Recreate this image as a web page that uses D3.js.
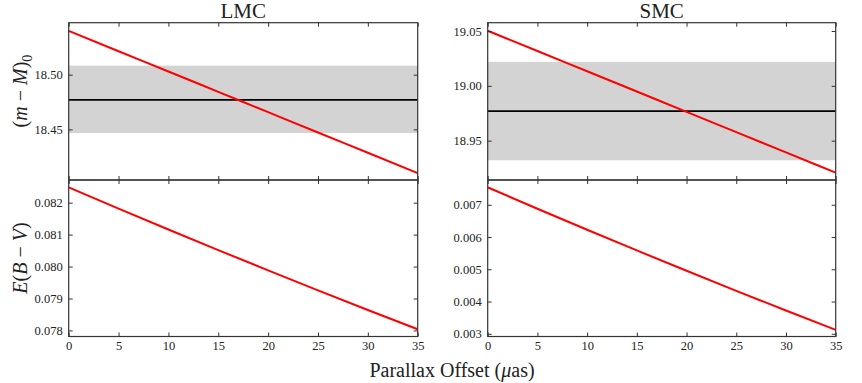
<!DOCTYPE html>
<html lang="en">
<head>
<meta charset="utf-8">
<title>LMC / SMC parallax offset</title>
<script src="https://d3js.org/d3.v7.min.js"></script>
<style type="text/css">
  body { margin: 0; background: #fff; }
  svg text { font-family: "Liberation Serif", "DejaVu Serif", serif; fill: #222; }
  .tick line { stroke: #333; }
</style>
</head>
<body>
<svg width="862" height="383" id="chart"></svg>
<script>
  // data
  var offsets = [0, 5, 10, 15, 20, 25, 30, 35];
  var lmcMu  = [18.540, 18.5214, 18.5029, 18.4843, 18.4657, 18.4471, 18.4286, 18.410];
  var lmcEbv = [0.08248, 0.081815, 0.08116, 0.080515, 0.07988, 0.079255, 0.07864, 0.078035];
  var smcMu  = [19.0503, 19.0318, 19.0133, 18.9948, 18.9763, 18.9578, 18.9393, 18.9208];
  var smcEbv = [0.00754, 0.006878, 0.006225, 0.005584, 0.004953, 0.004332, 0.003721, 0.00312];
  var lmcRef = {mu: 18.477, lo: 18.4466, hi: 18.5082};
  var smcRef = {mu: 18.977, lo: 18.9321, hi: 19.0219};
  var xTicks = [0, 5, 10, 15, 20, 25, 30, 35];
  var lmcMuTicks = [18.45, 18.50];
  var lmcEbvTicks = [0.078, 0.079, 0.080, 0.081, 0.082];
  var smcMuTicks = [18.95, 19.00, 19.05];
  var smcEbvTicks = [0.003, 0.004, 0.005, 0.006, 0.007];

  var serif = "Liberation Serif, DejaVu Serif, serif";
  var svg = d3.select("#chart");
  var top0 = 22.7, mid = 180, bot = 336.5;

  function panel(opt) {
    var g = svg.append("g");
    var x = d3.scaleLinear().domain([0, 35]).range([opt.x0, opt.x1]);
    var y = d3.scaleLinear().domain(opt.domain).range([opt.y1, opt.y0]);

    if (opt.ref) {
      g.append("rect")
        .attr("x", x(0)).attr("width", x(35) - x(0))
        .attr("y", y(opt.ref.hi)).attr("height", y(opt.ref.lo) - y(opt.ref.hi))
        .attr("fill", "#d3d3d3");
      g.append("line")
        .attr("x1", x(0)).attr("x2", x(35))
        .attr("y1", y(opt.ref.mu)).attr("y2", y(opt.ref.mu))
        .attr("stroke", "#000").attr("stroke-width", 1.8);
    }

    var line = d3.line().x(function(d, i) { return x(offsets[i]); })
      .y(function(d) { return y(d); }).curve(d3.curveMonotoneX);
    g.append("path").datum(opt.values).attr("d", line)
      .attr("fill", "none").attr("stroke", "#f00").attr("stroke-width", 2);

    g.append("g").attr("transform", `translate(${opt.x0},0)`)
      .call(d3.axisLeft(y).tickValues(opt.ticks).tickFormat(d3.format(opt.fmt)).tickSizeInner(-4).tickSizeOuter(0).tickPadding(6));
    g.append("g").attr("transform", `translate(${opt.x1},0)`)
      .call(d3.axisRight(y).tickValues(opt.ticks).tickFormat("").tickSizeInner(-4).tickSizeOuter(0));
    g.append("g").attr("transform", `translate(0,${opt.y0})`)
      .call(d3.axisTop(x).tickValues(xTicks).tickFormat("").tickSizeInner(-4).tickSizeOuter(0));
    g.append("g").attr("transform", `translate(0,${opt.y1})`)
      .call(d3.axisBottom(x).tickValues(xTicks).tickFormat(opt.showX ? d3.format("d") : "").tickSizeInner(-4).tickSizeOuter(0).tickPadding(5));
    g.selectAll(".domain").remove();
    g.selectAll("g").attr("font-family", serif).attr("font-size", 12.5);

    g.append("rect").attr("x", opt.x0).attr("y", opt.y0)
      .attr("width", opt.x1 - opt.x0).attr("height", opt.y1 - opt.y0)
      .attr("fill", "none").attr("stroke", "#333").attr("stroke-width", 1.2);
    return g;
  }

  var L = {x0: 68.7, x1: 417.7}, R = {x0: 487.7, x1: 835.7};

  panel({x0: L.x0, x1: L.x1, y0: top0, y1: mid, domain: [18.4037, 18.5475], values: lmcMu, ref: lmcRef,
         ticks: lmcMuTicks, fmt: ".2f", showX: false});
  panel({x0: L.x0, x1: L.x1, y0: mid, y1: bot, domain: [0.07781, 0.08271], values: lmcEbv,
         ticks: lmcEbvTicks, fmt: ".3f", showX: true});
  panel({x0: R.x0, x1: R.x1, y0: top0, y1: mid, domain: [18.9141, 19.0576], values: smcMu, ref: smcRef,
         ticks: smcMuTicks, fmt: ".2f", showX: false});
  panel({x0: R.x0, x1: R.x1, y0: mid, y1: bot, domain: [0.002916, 0.007768], values: smcEbv,
         ticks: smcEbvTicks, fmt: ".3f", showX: true});

  // titles
  svg.append("text").attr("x", (L.x0 + L.x1) / 2).attr("y", 18).attr("text-anchor", "middle")
    .attr("font-family", serif).attr("font-size", 21).text("LMC");
  svg.append("text").attr("x", (R.x0 + R.x1) / 2).attr("y", 18).attr("text-anchor", "middle")
    .attr("font-family", serif).attr("font-size", 21).text("SMC");

  // y labels
  var yl1 = svg.append("text").attr("transform", "translate(27,91) rotate(-90)")
    .attr("text-anchor", "middle").attr("font-family", serif).attr("font-size", 20);
  yl1.append("tspan").text("(");
  yl1.append("tspan").attr("font-style", "italic").text("m");
  yl1.append("tspan").text(" \u2212 ");
  yl1.append("tspan").attr("font-style", "italic").text("M");
  yl1.append("tspan").text(")");
  yl1.append("tspan").attr("font-size", 14).attr("dy", 5).text("0");

  var yl2 = svg.append("text").attr("transform", "translate(27,258) rotate(-90)")
    .attr("text-anchor", "middle").attr("font-family", serif).attr("font-size", 20);
  yl2.append("tspan").attr("font-style", "italic").text("E");
  yl2.append("tspan").text("(");
  yl2.append("tspan").attr("font-style", "italic").text("B");
  yl2.append("tspan").text(" \u2212 ");
  yl2.append("tspan").attr("font-style", "italic").text("V");
  yl2.append("tspan").text(")");

  // x label
  var xl = svg.append("text").attr("x", 452).attr("y", 377).attr("text-anchor", "middle")
    .attr("font-family", serif).attr("font-size", 20);
  xl.append("tspan").text("Parallax Offset (");
  xl.append("tspan").attr("font-style", "italic").text("\u03bc");
  xl.append("tspan").text("as)");
</script>
</body>
</html>
